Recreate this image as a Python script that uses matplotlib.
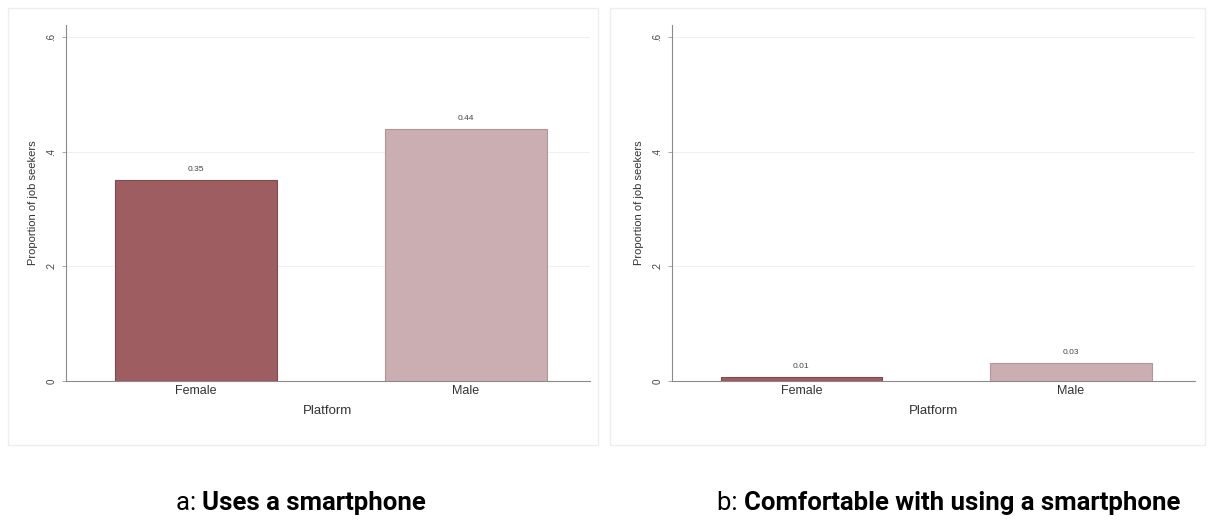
import numpy as np
import matplotlib
matplotlib.use('Agg')
import matplotlib.pyplot as plt
from matplotlib.patches import Rectangle

## data
categories = ['Female', 'Male']
uses_phone = [0.35, 0.44]
comfortable = [0.007, 0.032]
uses_labels = ['0.35', '0.44']
comfortable_labels = ['0.01', '0.03']
yticks = [0, 0.2, 0.4, 0.6]
ytick_labels = ['0', '.2', '.4', '.6']
captions = [('a:', 'Uses a smartphone'), ('b:', 'Comfortable with using a smartphone')]

bar_colors = ['#9e5d61', '#cbaeb2']
edge_colors = ['#7e4a4e', '#b39599']

W, H = 1210, 529
fig = plt.figure(figsize=(W/100, H/100), dpi=100)
fig.patch.set_facecolor('white')
plt.rcParams['font.family'] = ['Liberation Sans', 'DejaVu Sans']


def px_axes(x0, y_top, x1, y_bot):
    return fig.add_axes([x0/W, 1 - y_bot/H, (x1 - x0)/W, (y_bot - y_top)/H])


def draw_panel(ax, values, labels):
    x = np.arange(len(categories))
    ax.bar(x, values, width=0.6, color=bar_colors, edgecolor=edge_colors, linewidth=0.8, zorder=3)
    for xi, v, lab in zip(x, values, labels):
        ax.text(xi, v + 0.012, lab, ha='center', va='bottom', fontsize=6, color='#444444')
    ax.set_xlim(-0.48, 1.46)
    ax.set_ylim(0, 0.621)
    ax.set_xticks(x)
    ax.set_xticklabels(categories, fontsize=9, color='#333333')
    ax.set_yticks(yticks)
    ax.set_yticklabels(ytick_labels, fontsize=7, color='#444444', rotation=90, va='center')
    ax.tick_params(axis='x', length=0, pad=3)
    ax.tick_params(axis='y', length=3, width=0.6, color='#999999', pad=4)
    ax.grid(axis='y', color='#f0f0f0', linewidth=0.8, zorder=0)
    for s in ['top', 'right']:
        ax.spines[s].set_visible(False)
    for s in ['left', 'bottom']:
        ax.spines[s].set_color('#8a8a8a')
        ax.spines[s].set_linewidth(0.8)
    ax.set_xlabel('Platform', fontsize=9.5, color='#333333', labelpad=6)
    ax.set_ylabel('Proportion of job seekers', fontsize=8, color='#333333', labelpad=6)


ax1 = px_axes(66, 25, 590, 381)
ax2 = px_axes(672, 25, 1195, 381)
draw_panel(ax1, uses_phone, uses_labels)
draw_panel(ax2, comfortable, comfortable_labels)

## faint frames around each graph region
for x0, x1 in [(8, 598), (610, 1205)]:
    fig.patches.append(Rectangle((x0/W, 1 - 445/H), (x1 - x0)/W, (445 - 8)/H,
                                 transform=fig.transFigure, fill=False,
                                 edgecolor='#eeeeee', linewidth=1.0))

## captions: plain prefix + bold title, centred under each panel
fig.canvas.draw()
r = fig.canvas.get_renderer()
for (pre, title), cx in zip(captions, [301, 949]):
    txt_pre = fig.text(0, 1 - 503/H, pre + ' ', fontsize=18.5, family='Roboto', weight='normal', va='center')
    txt_main = fig.text(0, 1 - 503/H, title, fontsize=18.5, family='Roboto', weight='bold', va='center')
    w1 = txt_pre.get_window_extent(r).width
    w2 = txt_main.get_window_extent(r).width
    start = cx - (w1 + w2)/2
    txt_pre.set_x(start/W)
    txt_main.set_x((start + w1)/W)

fig.savefig('out.png', dpi=100)
